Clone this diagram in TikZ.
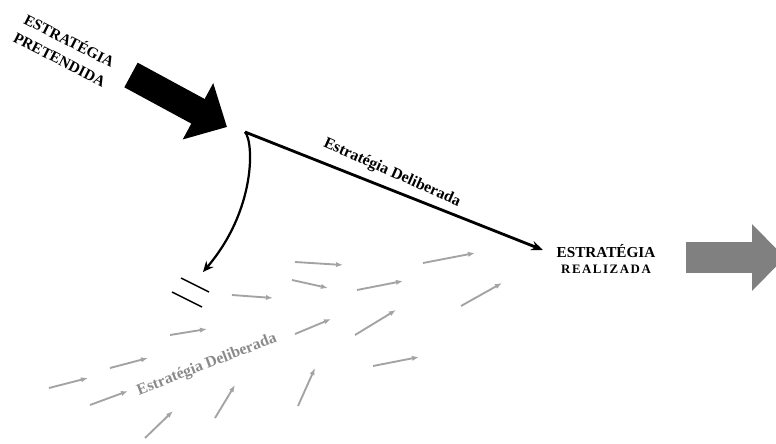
\documentclass[tikz,border=0pt]{standalone}
\usepackage{fontspec}
\setmainfont{Liberation Serif}
\usetikzlibrary{arrows.meta, positioning}
\definecolor{driftgray}{HTML}{A3A3A3}
\definecolor{labelgray}{HTML}{8A8A8A}
\definecolor{bigarrowgray}{HTML}{808080}

\begin{document}
\begin{tikzpicture}[x=0.03cm, y=-0.03cm,
  captext/.style={font=\bfseries\fontsize{13}{18}\selectfont, align=center, inner sep=0pt},
  pathtext/.style={font=\bfseries\fontsize{13.5}{16}\selectfont, inner sep=0pt},
  driftarrow/.style={driftgray, line width=1.6pt, -{Latex[length=6pt,width=4.5pt]}},
  mainline/.style={line width=2.4pt, -{Stealth[length=10pt,width=8pt]}}
]
  \useasboundingbox (0,0) rectangle (776,443);
  \clip (0,0) rectangle (776,443);

  % Intended strategy
  \node[captext, rotate=-27] (pretendida) at (65,49) {ESTRATÉGIA\\PRETENDIDA};
  \coordinate (fattail) at (131,75);
  \coordinate (fattip) at (227,127);
  \draw[line width=0.84cm, -{Triangle[width=1.86cm,length=0.99cm]}] (fattail) -- (fattip);

  % Deliberate strategy
  \coordinate (vertex) at (245,132);
  \coordinate (delibtip) at (543,250);
  \draw[mainline] (vertex) -- (delibtip);
  \node[pathtext, rotate=-24] (deliblabel) at (392,173) {Estratégia Deliberada};

  % Unrealized strategy
  \coordinate (droptip) at (203,272);
  \draw[line width=1.9pt, -{Stealth[length=9pt,width=8pt]}]
    (vertex) .. controls (254,142) and (256,210) .. (droptip);
  \draw[line width=1.2pt] (181,278) -- (209,292);
  \draw[line width=1.2pt] (172,292) -- (202,307);

  % Realized strategy
  \node[font=\bfseries\fontsize{13}{13}\selectfont, align=center, inner sep=0pt] (realizada) at (606,259)
    {ESTRATÉGIA\\{\fontsize{11}{13}\selectfont\addfontfeature{LetterSpace=12}REALIZADA}};
  \coordinate (bigtail) at (686,257.5);
  \coordinate (bigtip) at (785,257.5);
  \draw[bigarrowgray, line width=0.93cm, -{Triangle[width=1.95cm,length=0.99cm]}] (bigtail) -- (bigtip);

  % Emergent strategy
  \foreach \xa/\ya/\xb/\yb in {232/295/273/298, 170/335/207/329, 110/368/148/358,
      49/388/88/378, 90/405/128/391, 145/438/173/411, 215/418/235/385,
      295/262/343/265, 292/280/328/288, 357/290/403/281, 423/263/475/253,
      461/306/502/283, 295/334/331/319, 355/335/396/310, 373/366/419/357,
      298/406/315/368}
    \draw[driftarrow] (\xa,\ya) -- (\xb,\yb);
  \node[pathtext, text=labelgray, rotate=21] (emerglabel) at (207,365) {Estratégia Deliberada};
\end{tikzpicture}
\end{document}
